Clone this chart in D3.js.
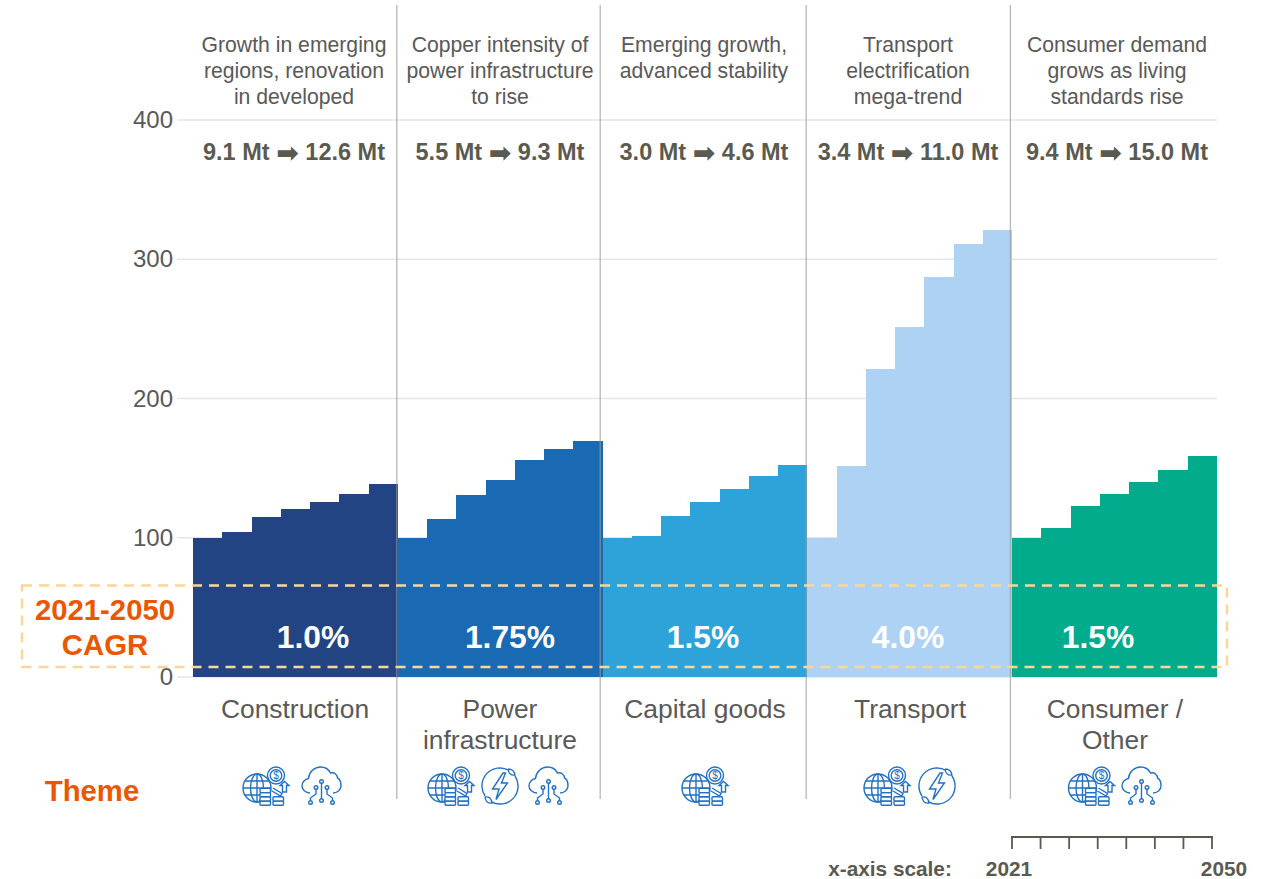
<!DOCTYPE html>
<html>
<head>
<meta charset="utf-8">
<style>
    html, body { margin: 0; padding: 0; background: #fff; }
    svg { display: block; }
    text { font-family: "Liberation Sans", Arial, sans-serif; }
</style>
</head>
<body>
<div id="chart"></div>
<script src="https://cdn.jsdelivr.net/npm/d3@7"></script>
<script>
// Chart values
const categories = [["Construction"], ["Power", "infrastructure"], ["Capital goods"], ["Transport"], ["Consumer /", "Other"]];
const descriptions = [
    ["Growth in emerging", "regions, renovation", "in developed"],
    ["Copper intensity of", "power infrastructure", "to rise"],
    ["Emerging growth,", "advanced stability"],
    ["Transport", "electrification", "mega-trend"],
    ["Consumer demand", "grows as living", "standards rise"]
];
const demandStart = ["9.1 Mt", "5.5 Mt", "3.0 Mt", "3.4 Mt", "9.4 Mt"];
const demandEnd = ["12.6 Mt", "9.3 Mt", "4.6 Mt", "11.0 Mt", "15.0 Mt"];
const cagrLabels = ["1.0%", "1.75%", "1.5%", "4.0%", "1.5%"];
const construction = [100, 104, 115, 120.6, 125.7, 131.4, 138.6];
const power = [100, 113.5, 130.7, 141.5, 155.8, 163.7, 169.5];
const capitalGoods = [100, 101.3, 115.6, 125.7, 135, 144.3, 152.2];
const transport = [100, 151.5, 221.2, 251.3, 287.3, 311, 321];
const consumer = [100, 107, 122.8, 131.4, 140, 148.6, 158.7];
const yTicks = [0, 100, 200, 300, 400];
const themes = [["globe", "cloud"], ["globe", "bolt", "cloud"], ["globe"], ["globe", "bolt"], ["globe", "cloud"]];

const allSeries = [construction, power, capitalGoods, transport, consumer];
const colors = ["#224483", "#1A69B3", "#2EA3DA", "#AED2F4", "#02AB8C"];

const width = 1268;
const height = 879;
const grey = "#595959";
const darkGrey = "#5A5A50";
const orange = "#EB5600";
const iconBlue = "#2272C3";

const svg = d3.select("#chart")
    .append("svg")
    .attr("width", width)
    .attr("height", height);

// Scales
const barIds = d3.range(35);
const xScale = d3.scaleBand().domain(barIds).range([193, 1217]).padding(0);
const yScale = d3.scaleLinear().domain([0, 400]).range([677, 120]);

// Gridlines
svg.append("g")
    .selectAll("line")
    .data(yTicks)
    .join("line")
        .attr("x1", 177)
        .attr("x2", 1217)
        .attr("y1", d => yScale(d))
        .attr("y2", d => yScale(d))
        .attr("stroke", "#E6E6E6")
        .attr("stroke-width", 1.6);

// y axis labels
svg.append("g")
    .selectAll("text")
    .data(yTicks)
    .join("text")
        .attr("x", 173)
        .attr("y", d => yScale(d) + 8)
        .attr("text-anchor", "end")
        .attr("fill", grey)
        .style("font-size", "24px")
        .text(d => d);

// Stepped bars, one group per sector
const sectors = svg.selectAll(".sector")
    .data(allSeries)
    .join("g")
        .attr("class", "sector")
        .attr("fill", (d, i) => colors[i]);

sectors.selectAll("rect")
    .data((d, i) => d.map((value, j) => ({ id: i * 7 + j, value })))
    .join("rect")
        .attr("x", d => xScale(d.id))
        .attr("y", d => yScale(d.value))
        .attr("width", xScale.bandwidth())
        .attr("height", d => yScale(0) - yScale(d.value))
        .attr("shape-rendering", "crispEdges");

// Vertical separators
const sectorEdges = [396.8, 600.2, 806.2, 1010.4];
svg.append("g")
    .selectAll("line")
    .data(sectorEdges)
    .join("line")
        .attr("x1", d => d)
        .attr("x2", d => d)
        .attr("y1", 5)
        .attr("y2", 799)
        .attr("stroke", "#9A9A9A")
        .attr("stroke-opacity", 0.7)
        .attr("stroke-width", 1.3);

// Text above the bars
const descCenters = [294, 500, 704, 908, 1117];
descriptions.forEach((lines, i) => {
    svg.append("text")
        .attr("text-anchor", "middle")
        .attr("fill", grey)
        .style("font-size", "21.2px")
        .selectAll("tspan")
        .data(lines)
        .join("tspan")
            .attr("x", descCenters[i])
            .attr("y", (d, j) => 52 + j * 26)
            .text(d => d);

    const mt = svg.append("text")
        .attr("x", descCenters[i])
        .attr("y", 160)
        .attr("text-anchor", "middle")
        .attr("fill", darkGrey)
        .style("font-size", "23.5px")
        .style("font-weight", "bold");
    mt.append("tspan").text(demandStart[i] + " ");
    mt.append("tspan").attr("dy", 1.5).style("font-family", "DejaVu Sans").style("font-size", "27px").text("\u27A1");
    mt.append("tspan").attr("dy", -1.5).text(" " + demandEnd[i]);
});

// Category labels
const catCenters = [295, 500, 705, 910, 1115];
categories.forEach((lines, i) => {
    svg.append("text")
        .attr("text-anchor", "middle")
        .attr("fill", grey)
        .style("font-size", "26.4px")
        .selectAll("tspan")
        .data(lines)
        .join("tspan")
            .attr("x", catCenters[i])
            .attr("y", (d, j) => 718 + j * 31)
            .text(d => d);
});

// CAGR band
svg.append("rect")
    .attr("x", 22)
    .attr("y", 585.5)
    .attr("width", 1205)
    .attr("height", 81.5)
    .attr("fill", "none")
    .attr("stroke", "#FAD796")
    .attr("stroke-width", 2.5)
    .attr("stroke-dasharray", "10 7");

const cagrCenters = [313, 510, 703, 908, 1098];
svg.append("g")
    .selectAll("text")
    .data(cagrLabels)
    .join("text")
        .attr("x", (d, i) => cagrCenters[i])
        .attr("y", 648)
        .attr("text-anchor", "middle")
        .attr("fill", "#fff")
        .style("font-size", "31.8px")
        .style("font-weight", "bold")
        .text(d => d);

svg.append("text")
    .attr("text-anchor", "middle")
    .attr("fill", orange)
    .style("font-size", "29.3px")
    .style("font-weight", "bold")
    .selectAll("tspan")
    .data(["2021-2050", "CAGR"])
    .join("tspan")
        .attr("x", 105)
        .attr("y", (d, j) => 620 + j * 35)
        .text(d => d);

svg.append("text")
    .attr("x", 92)
    .attr("y", 801)
    .attr("text-anchor", "middle")
    .attr("fill", orange)
    .style("font-size", "29.3px")
    .style("font-weight", "bold")
    .text("Theme");

// Icons, each drawn around its own centre
const drawGlobe = g => {
    g.append("circle").attr("cx", -7).attr("cy", 2).attr("r", 14);
    g.append("ellipse").attr("cx", -7).attr("cy", 2).attr("rx", 6.5).attr("ry", 14);
    g.append("path").attr("d", "M-7,-12V16M-21,2H7M-19,-5H5M-19,9H5");
    g.append("circle").attr("cx", 12).attr("cy", -10.5).attr("r", 8.5).attr("fill", "#fff");
    g.append("circle").attr("cx", 12).attr("cy", -10.5).attr("r", 5.8);
    g.append("text")
        .attr("x", 12).attr("y", -7)
        .attr("text-anchor", "middle")
        .attr("fill", iconBlue)
        .attr("stroke", "none")
        .style("font-size", "10px")
        .text("$");
    d3.range(4).forEach(k => {
        g.append("rect")
            .attr("x", -4).attr("y", 15 - k * 4.2)
            .attr("width", 10.5).attr("height", 4.2)
            .attr("rx", 1).attr("fill", "#fff");
    });
    d3.range(2).forEach(k => {
        g.append("rect")
            .attr("x", 9).attr("y", 15 - k * 4.2)
            .attr("width", 10.5).attr("height", 4.2)
            .attr("rx", 1).attr("fill", "#fff");
    });
    g.append("path").attr("d", "M9,2L18,7.5L16.5,10L8,5");
    g.append("path").attr("d", "M18.5,6V-0.5H16L20.5,-4.5L25,-0.5H22.5V6Z");
};

const drawBolt = g => {
    g.append("path").attr("d", "M-15,10A18,18,0,0,1,9,-15.6M15,-10A18,18,0,0,1,-9,15.6");
    g.append("path").attr("d", "M8,-17Q14,-17,15,-11Q9,-10,8,-17M-15,11Q-9,10,-8,17Q-14,18,-15,11");
    g.append("path").attr("d", "M3,-13L-7.5,3H-1L-4,13.5L7.5,-3H1.5L5.5,-13Z");
};

const drawCloud = g => {
    g.append("path").attr("d", "M-11.5,7C-16,7,-19.5,3.5,-19.5,0C-19.5,-4,-16.5,-7,-13,-7.5C-12.5,-14,-7,-19,-1,-19C4,-19,7,-17,9,-13C13,-14,16,-11,16,-8C18.5,-7,19.5,-3,19.5,0C19.5,4,15.5,7,11.5,7");
    g.append("path").attr("d", "M0,-3V13M-5.5,3V8L-11,12V15M5.5,3V8L11,12V15");
    [[0, -4.5], [-5.5, 1.5], [5.5, 1.5], [0, 14.5], [-11, 16.5], [11, 16.5]].forEach(p => {
        g.append("circle").attr("cx", p[0]).attr("cy", p[1]).attr("r", 1.8).attr("fill", "#fff");
    });
};

const iconDrawers = { globe: drawGlobe, bolt: drawBolt, cloud: drawCloud };
const iconCenters = [[264, 321.5], [449, 500, 548.5], [703], [885, 937], [1089.5, 1141.5]];

themes.forEach((list, i) => {
    list.forEach((name, j) => {
        const g = svg.append("g")
            .attr("transform", `translate(${iconCenters[i][j]},786)`)
            .attr("fill", "none")
            .attr("stroke", iconBlue)
            .attr("stroke-width", 1.4);
        iconDrawers[name](g);
    });
});

// x-axis scale key
const keyTicks = d3.range(8);
const keyScale = d3.scalePoint().domain(keyTicks).range([1012, 1212]);
const key = svg.append("g").attr("stroke", darkGrey).attr("stroke-width", 1.8);
key.append("line")
    .attr("x1", keyScale(0) - 1)
    .attr("x2", keyScale(7) + 1)
    .attr("y1", 837)
    .attr("y2", 837);
key.selectAll(".key-tick")
    .data(keyTicks)
    .join("line")
        .attr("class", "key-tick")
        .attr("x1", d => keyScale(d))
        .attr("x2", d => keyScale(d))
        .attr("y1", 837)
        .attr("y2", 849);

const keyLabels = [
    { text: "x-axis scale:", x: 890 },
    { text: "2021", x: 1009 },
    { text: "2050", x: 1224 }
];
svg.append("g")
    .selectAll("text")
    .data(keyLabels)
    .join("text")
        .attr("x", d => d.x)
        .attr("y", 876)
        .attr("text-anchor", "middle")
        .attr("fill", darkGrey)
        .style("font-size", "20.8px")
        .style("font-weight", "bold")
        .text(d => d.text);
</script>
</body>
</html>
